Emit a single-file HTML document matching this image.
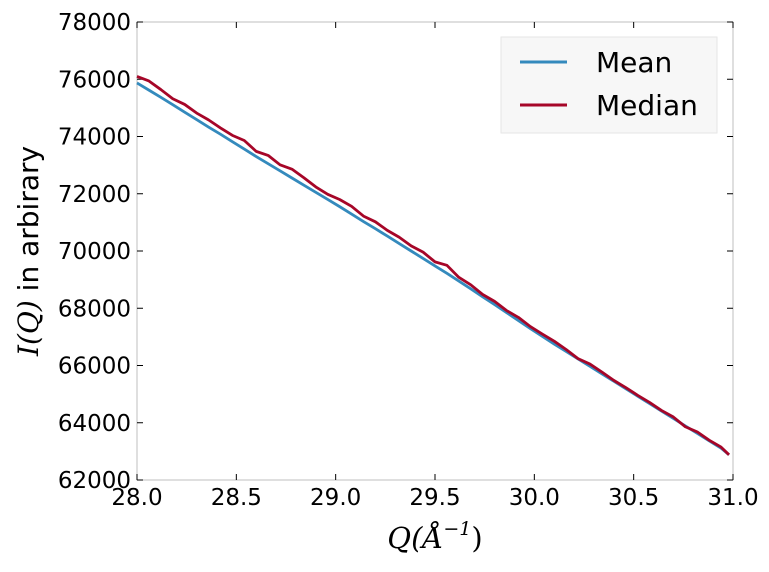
<!DOCTYPE html>
<html><head><meta charset="utf-8"><style>
body{margin:0;background:#fff;}
svg text{font-family:"DejaVu Sans",sans-serif;}
</style></head><body>
<svg id="chart" width="769" height="567">
<rect x="137" y="22" width="596" height="458" fill="#fff" stroke="#bfbfbf" stroke-width="1"/>
<g id="ticks"></g>
<g id="series"></g>
<text x="435" y="548" font-size="29" text-anchor="middle" style="font-family:'DejaVu Serif',serif" font-style="italic">Q(Å<tspan font-size="19" dy="-13">−1</tspan><tspan dy="13" font-style="normal">)</tspan></text>
<text transform="translate(38,251) rotate(-90)" font-size="28" text-anchor="middle"><tspan style="font-family:'DejaVu Serif',serif" font-style="italic">I(Q)</tspan> in arbirary</text>
<g>
<rect x="501" y="37" width="216" height="96" fill="#f7f7f7" stroke="#e6e6e6"/>
<line x1="520" y1="62" x2="567" y2="62" stroke="#348abd" stroke-width="3"/>
<text x="596" y="72" font-size="28">Mean</text>
<line x1="520" y1="105" x2="567" y2="105" stroke="#a60628" stroke-width="3"/>
<text x="596" y="115" font-size="28">Median</text>
</g>
</svg>
<script>
const xTicks=[28.0,28.5,29.0,29.5,30.0,30.5,31.0];
const yTicks=[62000,64000,66000,68000,70000,72000,74000,76000,78000];
const qValues=[28.00,28.06,28.12,28.18,28.24,28.30,28.36,28.42,28.48,28.54,28.60,28.66,28.72,28.78,28.84,28.90,28.96,29.02,29.08,29.14,29.20,29.26,29.32,29.38,29.44,29.50,29.56,29.62,29.68,29.74,29.80,29.86,29.92,29.98,30.04,30.10,30.16,30.22,30.28,30.34,30.40,30.46,30.52,30.58,30.64,30.70,30.76,30.82,30.88,30.94,30.98];
const meanValues=[75870,75620,75370,75110,74850,74590,74330,74080,73820,73560,73300,73050,72800,72550,72300,72050,71800,71550,71290,71030,70780,70520,70260,70000,69740,69480,69220,68950,68680,68400,68130,67850,67570,67290,67020,66750,66490,66230,65970,65710,65450,65190,64930,64670,64410,64150,63890,63630,63370,63110,62880];
const medianValues=[76100,75940,75640,75320,75120,74820,74580,74300,74040,73860,73480,73340,73010,72860,72560,72240,71980,71800,71560,71220,71020,70720,70480,70180,69960,69620,69500,69080,68820,68480,68240,67920,67680,67360,67100,66850,66560,66240,66050,65770,65480,65230,64960,64710,64430,64200,63860,63680,63390,63150,62880];
const L=137,R=733,T=22,B=480;
const xs=v=>L+(v-28)/3*(R-L);
const ys=v=>B-(v-62000)/16000*(B-T);
const NS='http://www.w3.org/2000/svg';
const tg=document.getElementById('ticks');
xTicks.forEach(t=>{
 [[B,B-6],[T,T+6]].forEach(p=>{const l=document.createElementNS(NS,'line');l.setAttribute('x1',xs(t));l.setAttribute('x2',xs(t));l.setAttribute('y1',p[0]);l.setAttribute('y2',p[1]);l.setAttribute('stroke','#000');
 
 tg.appendChild(l);});
 const tx=document.createElementNS(NS,'text');tx.setAttribute('x',xs(t));tx.setAttribute('y',505);tx.setAttribute('font-size','23');tx.setAttribute('text-anchor','middle');tx.textContent=t.toFixed(1);
 
 tg.appendChild(tx);
});
yTicks.forEach(t=>{
 [[L,L+6],[R,R-6]].forEach(p=>{const l=document.createElementNS(NS,'line');l.setAttribute('y1',ys(t));l.setAttribute('y2',ys(t));l.setAttribute('x1',p[0]);l.setAttribute('x2',p[1]);l.setAttribute('stroke','#000');
 
 tg.appendChild(l);});
 const tx=document.createElementNS(NS,'text');tx.setAttribute('x',131);tx.setAttribute('y',ys(t)+8);tx.setAttribute('font-size','23');tx.setAttribute('text-anchor','end');tx.textContent=t;
 
 tg.appendChild(tx);
});
const sg=document.getElementById('series');
function line(vals,color,name){const p=document.createElementNS(NS,'polyline');
 p.setAttribute('points',vals.map((v,i)=>xs(qValues[i])+','+ys(v)).join(' '));
 p.setAttribute('fill','none');p.setAttribute('stroke',color);p.setAttribute('stroke-width','2.8');p.setAttribute('stroke-linejoin','round');
 
 sg.appendChild(p);}
line(meanValues,'#348abd','mean-line');
line(medianValues,'#a60628','median-line');
</script>
</body></html>
